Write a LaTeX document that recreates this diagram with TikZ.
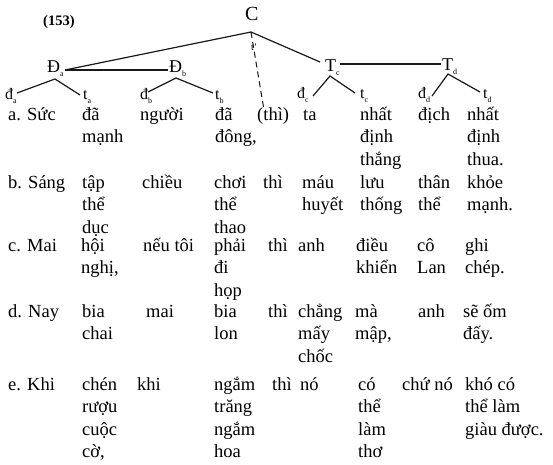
\documentclass[tikz,border=0pt]{standalone}
\usepackage{fontspec}
\setmainfont{Liberation Serif}
\newcommand\sbs[1]{\raisebox{-4pt}{\fontsize{8}{8}\selectfont #1}}
\newcommand\cellw[4]{\foreach \ln [count=\i from 0] in {#4} {\node[txt,name=#1-\i] at (#2,{#3+22.5*\i}) {\ln};}}
\begin{document}
\begin{tikzpicture}[x=1pt,y=-1pt,
  txt/.style={anchor=base west,inner sep=0pt,font=\fontsize{18.5}{22}\selectfont,text=black},
  tree/.style={line width=1.2pt,draw=black!90},
  lab/.style={anchor=base west,inner sep=0pt,font=\fontsize{18}{20}\selectfont,text=black},
  leaf/.style={anchor=base west,inner sep=0pt,font=\fontsize{16}{16}\selectfont,text=black}]
\useasboundingbox[fill=white] (0,0) rectangle (553,464);
% title
\node[anchor=base west,inner sep=0pt,font=\fontsize{14.5}{16}\selectfont\bfseries] (num) at (43,25) {(153)};
% tree labels
\node[lab,font=\fontsize{20}{22}\selectfont] (C) at (245,20) {C};
\node[lab] (Da) at (47,72) {Đ\sbs{a}};
\node[lab] (Db) at (169,72) {Đ\sbs{b}};
\node[lab] (Tc) at (325,71) {T\sbs{c}};
\node[lab] (Td) at (442,70) {T\sbs{d}};
\node[anchor=base west,inner sep=0pt,font=\fontsize{10}{10}\selectfont] (tp) at (251,50) {t'};
% leaves
\node[leaf] (da) at (5,99) {đ\sbs{a}};
\node[leaf] (ta) at (83,99) {t\sbs{a}};
\node[leaf] (db) at (140,99) {đ\sbs{b}};
\node[leaf] (tb) at (215,99) {t\sbs{b}};
\node[leaf] (dc) at (297,98) {đ\sbs{c}};
\node[leaf] (tc) at (360,98) {t\sbs{c}};
\node[leaf] (dd) at (418,98) {đ\sbs{d}};
\node[leaf] (td) at (483,98) {t\sbs{d}};
% connector points
\coordinate (apex) at (251,32);
\coordinate (Da-r) at (65,70);
\coordinate (Db-l) at (168,70);
\coordinate (Tc-l) at (320,62);
\coordinate (Tc-r) at (340,64);
\coordinate (Td-l) at (441,64);
\coordinate (Da-b) at (55,79);
\coordinate (da-t) at (17,93);
\coordinate (ta-t) at (80,95);
\coordinate (Db-b) at (176,78);
\coordinate (db-t) at (148,92);
\coordinate (tb-t) at (213,93);
\coordinate (Tc-b) at (330,76);
\coordinate (dc-t) at (313,96);
\coordinate (tc-t) at (355,93);
\coordinate (Td-b) at (448,74);
\coordinate (dd-t) at (432,96);
\coordinate (td-t) at (480,92);
\coordinate (dashend) at (264,110);
% connectors
\draw[tree] (Da-r) -- (apex) -- (Tc-l);
\draw[tree] (Da-r) -- (Db-l);
\draw[tree] (Tc-r) -- (Td-l);
\draw[tree] (da-t) -- (Da-b) -- (ta-t);
\draw[tree] (db-t) -- (Db-b) -- (tb-t);
\draw[tree] (dc-t) -- (Tc-b) -- (tc-t);
\draw[tree] (dd-t) -- (Td-b) -- (td-t);
\draw[line width=1pt,draw=black!90,dash pattern=on 6pt off 4pt] (apex) -- (dashend);
% row a
\cellw{a0}{8}{120}{a. Sức}
\cellw{a1}{82}{120}{đã,mạnh}
\cellw{a2}{140}{120}{người}
\cellw{a3}{215}{120}{đã,{đông,}}
\cellw{a4}{257}{120}{(thì)}
\cellw{a5}{303}{120}{ta}
\cellw{a6}{360}{120}{nhất,định,thắng}
\cellw{a7}{418}{120}{địch}
\cellw{a8}{467}{120}{nhất,định,thua.}
% row b
\cellw{b0}{8}{188}{b. Sáng}
\cellw{b1}{82}{188}{tập,thể,dục}
\cellw{b2}{142}{188}{chiều}
\cellw{b3}{214}{188}{chơi,thể,thao}
\cellw{b4}{263}{188}{thì}
\cellw{b5}{302}{188}{máu,huyết}
\cellw{b6}{360}{188}{lưu,thống}
\cellw{b7}{418}{188}{thân,thể}
\cellw{b8}{467}{188}{khỏe,mạnh.}
% row c
\cellw{c0}{8}{251}{c. Mai}
\cellw{c1}{81}{251}{hội,{nghị,}}
\cellw{c2}{143}{251}{nếu tôi}
\cellw{c3}{214}{251}{phải,đi,họp}
\cellw{c4}{268}{251}{thì}
\cellw{c5}{298}{251}{anh}
\cellw{c6}{356}{251}{điều,khiển}
\cellw{c7}{417}{251}{cô,Lan}
\cellw{c8}{465}{251}{ghi,chép.}
% row d
\cellw{d0}{8}{317}{d. Nay}
\cellw{d1}{82}{317}{bia,chai}
\cellw{d2}{146}{317}{mai}
\cellw{d3}{214}{317}{bia,lon}
\cellw{d4}{268}{317}{thì}
\cellw{d5}{298}{317}{chẳng,mấy,chốc}
\cellw{d6}{355}{317}{mà,{mập,}}
\cellw{d7}{418}{317}{anh}
\cellw{d8}{463}{317}{sẽ ốm,đấy.}
% row e
\cellw{e0}{8}{390}{e. Khi}
\cellw{e1}{82}{390}{chén,rượu,cuộc,{cờ,}}
\cellw{e2}{137}{390}{khi}
\cellw{e3}{214}{390}{ngắm,trăng,ngắm,hoa}
\cellw{e4}{272}{390}{thì}
\cellw{e5}{300}{390}{nó}
\cellw{e6}{358}{390}{có,thể,làm,thơ}
\cellw{e7}{402}{390}{chứ nó}
\cellw{e8}{465}{390}{khó có,thể làm,giàu được.}
\end{tikzpicture}
\end{document}
